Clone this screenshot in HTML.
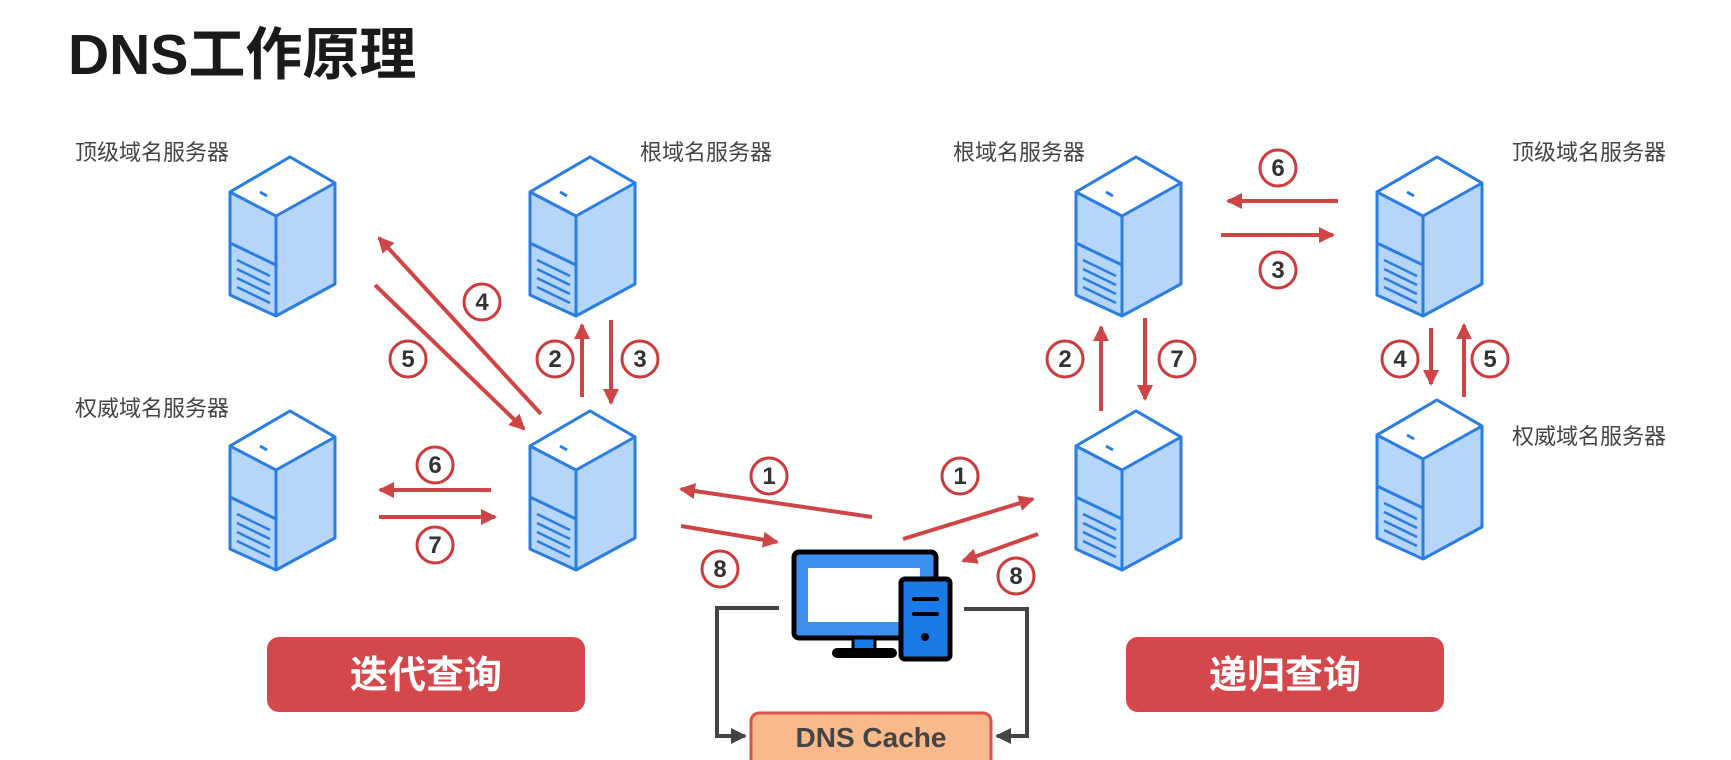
<!DOCTYPE html>
<html><head><meta charset="utf-8"><style>
html,body{margin:0;padding:0;background:#fff;width:1731px;height:760px;overflow:hidden}
svg{display:block}
</style></head><body>
<svg width="1731" height="760" viewBox="0 0 1731 760" xmlns="http://www.w3.org/2000/svg">
<defs>
<g id="srv">
<polygon points="60,0 105,26 105,127 46,159 0,138 0,35" fill="#b5d5fb" stroke="#2a7de1" stroke-width="3" stroke-linejoin="round"/>
<polygon points="60,0 105,26 46,59 0,35" fill="#fff" stroke="#2a7de1" stroke-width="3" stroke-linejoin="round"/>
<line x1="46" y1="59" x2="46" y2="159" stroke="#2a7de1" stroke-width="3"/>
<line x1="0" y1="86" x2="46" y2="108" stroke="#2a7de1" stroke-width="3"/>
<line x1="30" y1="35" x2="37" y2="39" stroke="#2a7de1" stroke-width="3"/>
<line x1="7" y1="103" x2="40" y2="119" stroke="#2a7de1" stroke-width="2.5"/>
<line x1="7" y1="112" x2="40" y2="128" stroke="#2a7de1" stroke-width="2.5"/>
<line x1="7" y1="121" x2="40" y2="137" stroke="#2a7de1" stroke-width="2.5"/>
<line x1="7" y1="130" x2="40" y2="146" stroke="#2a7de1" stroke-width="2.5"/>
</g>
<marker id="ah" markerWidth="5" markerHeight="4" refX="3.5" refY="2" orient="auto" markerUnits="strokeWidth">
<path d="M0,0 L4,2 L0,4 z" fill="#cf4545"/>
</marker>
<marker id="gh" markerWidth="5" markerHeight="4" refX="3.5" refY="2" orient="auto" markerUnits="strokeWidth">
<path d="M0,0 L4,2 L0,4 z" fill="#444"/>
</marker>
</defs>

<text x="68" y="74" font-family="Liberation Sans, Noto Sans CJK SC, sans-serif" font-weight="bold" font-size="57" fill="#1a1a1a">DNS工作原理</text>

<g font-family="Liberation Sans, Noto Sans CJK SC, sans-serif" font-size="22" fill="#444">
<text x="75" y="160">顶级域名服务器</text>
<text x="640" y="160">根域名服务器</text>
<text x="75" y="416">权威域名服务器</text>
<text x="953" y="160">根域名服务器</text>
<text x="1512" y="160">顶级域名服务器</text>
<text x="1512" y="444">权威域名服务器</text>
</g>

<use href="#srv" x="230" y="157"/>
<use href="#srv" x="530" y="157"/>
<use href="#srv" x="230" y="411"/>
<use href="#srv" x="530" y="411"/>
<use href="#srv" x="1076" y="157"/>
<use href="#srv" x="1377" y="157"/>
<use href="#srv" x="1076" y="411"/>
<use href="#srv" x="1377" y="400"/>

<g stroke="#cf4545" stroke-width="4" fill="none" marker-end="url(#ah)">
<line x1="541" y1="414" x2="379" y2="238"/>
<line x1="375" y1="285" x2="524" y2="429"/>
<line x1="582" y1="397" x2="582" y2="325"/>
<line x1="611" y1="320" x2="611" y2="403"/>
<line x1="491" y1="490" x2="380" y2="490"/>
<line x1="379" y1="517" x2="495" y2="517"/>
<line x1="872" y1="517" x2="681" y2="489"/>
<line x1="681" y1="526" x2="777" y2="542"/>
<line x1="903" y1="539" x2="1033" y2="499"/>
<line x1="1038" y1="534" x2="963" y2="561"/>
<line x1="1338" y1="201" x2="1228" y2="201"/>
<line x1="1221" y1="235" x2="1333" y2="235"/>
<line x1="1101" y1="411" x2="1101" y2="327"/>
<line x1="1145" y1="318" x2="1145" y2="399"/>
<line x1="1431" y1="328" x2="1431" y2="384"/>
<line x1="1464" y1="397" x2="1464" y2="325"/>
</g>

<g font-family="Liberation Sans, sans-serif" font-weight="bold" font-size="24" fill="#333" text-anchor="middle">
<g stroke="#cc3b3b" stroke-width="3" fill="#fff">
<circle cx="482" cy="302" r="18"/><circle cx="408" cy="359" r="18"/>
<circle cx="555" cy="359" r="18"/><circle cx="640" cy="359" r="18"/>
<circle cx="435" cy="465" r="18"/><circle cx="435" cy="545" r="18"/>
<circle cx="769" cy="476" r="18"/><circle cx="720" cy="569" r="18"/>
<circle cx="960" cy="476" r="18"/><circle cx="1016" cy="576" r="18"/>
<circle cx="1278" cy="168" r="18"/><circle cx="1278" cy="270" r="18"/>
<circle cx="1065" cy="359" r="18"/><circle cx="1177" cy="359" r="18"/>
<circle cx="1400" cy="359" r="18"/><circle cx="1490" cy="359" r="18"/>
</g>
<text x="482" y="310">4</text><text x="408" y="367">5</text>
<text x="555" y="367">2</text><text x="640" y="367">3</text>
<text x="435" y="473">6</text><text x="435" y="553">7</text>
<text x="769" y="484">1</text><text x="720" y="577">8</text>
<text x="960" y="484">1</text><text x="1016" y="584">8</text>
<text x="1278" y="176">6</text><text x="1278" y="278">3</text>
<text x="1065" y="367">2</text><text x="1177" y="367">7</text>
<text x="1400" y="367">4</text><text x="1490" y="367">5</text>
</g>

<rect x="794" y="552" width="142" height="86" rx="5" fill="#3d8ff0" stroke="#000" stroke-width="5"/>
<rect x="808" y="568" width="112" height="54" fill="#fff"/>
<rect x="853" y="638" width="22" height="12" fill="#1a7be8" stroke="#000" stroke-width="3"/>
<rect x="832" y="648" width="65" height="10" rx="5" fill="#000"/>
<rect x="901" y="579" width="49" height="80" rx="4" fill="#1a7be8" stroke="#000" stroke-width="5"/>
<line x1="914" y1="599" x2="937" y2="599" stroke="#000" stroke-width="4" stroke-linecap="round"/>
<line x1="914" y1="614" x2="937" y2="614" stroke="#000" stroke-width="4" stroke-linecap="round"/>
<circle cx="925" cy="637" r="4" fill="#000"/>

<g stroke="#444" stroke-width="4" fill="none">
<polyline points="779,608 717,608 717,736 745,736" marker-end="url(#gh)"/>
<polyline points="964,609 1027,609 1027,736 997,736" marker-end="url(#gh)"/>
</g>

<rect x="751" y="713" width="240" height="60" rx="8" fill="#f9b98a" stroke="#d9524f" stroke-width="3"/>
<text x="871" y="747" font-family="Liberation Sans, sans-serif" font-weight="bold" font-size="28" fill="#444" text-anchor="middle">DNS Cache</text>

<rect x="267" y="637" width="318" height="75" rx="12" fill="#d4474a"/>
<text x="426" y="688" font-family="Liberation Sans, Noto Sans CJK SC, sans-serif" font-weight="bold" font-size="38" fill="#fff" text-anchor="middle">迭代查询</text>
<rect x="1126" y="637" width="318" height="75" rx="12" fill="#d4474a"/>
<text x="1285" y="688" font-family="Liberation Sans, Noto Sans CJK SC, sans-serif" font-weight="bold" font-size="38" fill="#fff" text-anchor="middle">递归查询</text>
</svg>
</body></html>
